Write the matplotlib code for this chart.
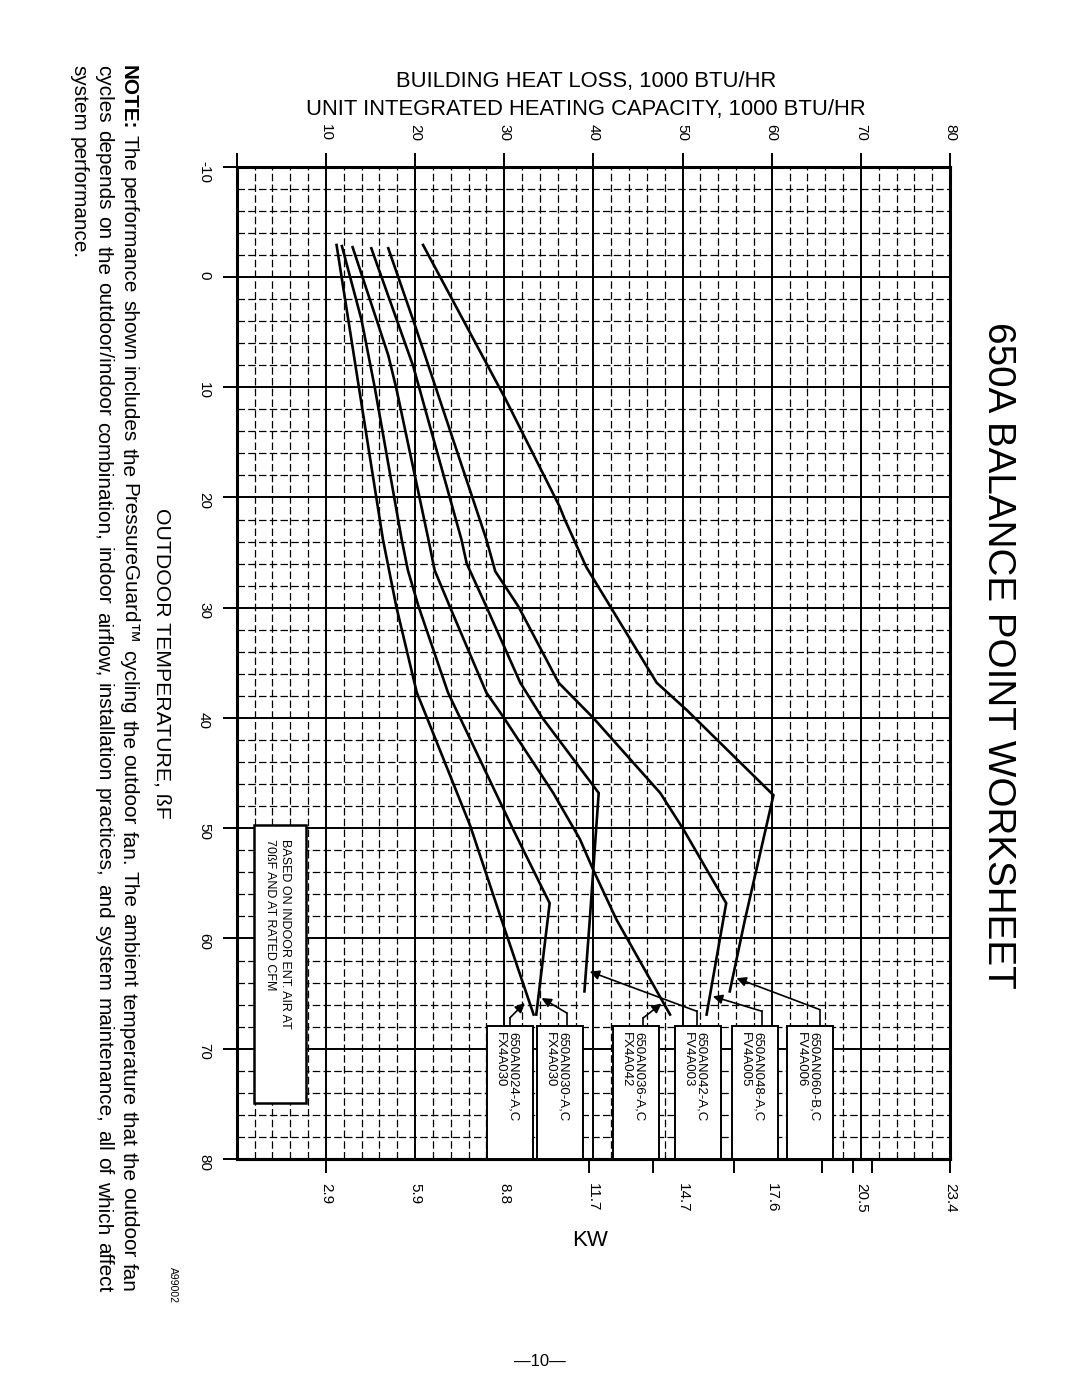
import numpy as np
import matplotlib.pyplot as plt
from matplotlib.patches import Rectangle

plt.rcParams['font.family'] = ['Liberation Sans', 'DejaVu Sans']

# axis scales
cap_ticks = list(range(0, 81, 10))
cap_labels = [''] + [str(v) for v in range(10, 81, 10)]
temp_ticks = list(range(-10, 81, 10))
kw_label_pos = [10, 20, 30, 40, 50, 60, 70, 80]
kw_labels = ['2.9', '5.9', '8.8', '11.7', '14.7', '17.6', '20.5', '23.4']
kw_tick_pos = [10, 39.5, 46.7, 55.8, 65.7, 69.1, 71.2, 80]

# balance point curves: outdoor temp (F) vs capacity (1000 BTU/HR)
t_024 = [-2.9, 10.5, 23.8, 29.9, 37.7, 39.9, 49.8, 58.3, 66.9]
c_024 = [11.2, 13.8, 16.4, 17.9, 20.2, 21.3, 26.2, 29.7, 33.3]

t_030 = [-2.8, 3.9, 10.1, 23.8, 26.6, 29.9, 37.7, 39.9, 50.1, 56.8, 66.9]
c_030 = [11.8, 14.0, 15.5, 18.5, 19.2, 20.4, 23.7, 25.0, 31.0, 35.1, 33.6]

t_036 = [-2.7, 7.1, 10.1, 23.8, 26.6, 29.9, 37.7, 39.9, 46.8, 51.0, 53.8, 58.3, 66.9]
c_036 = [13.0, 17.0, 17.9, 21.5, 22.2, 23.9, 28.0, 29.9, 35.5, 38.5, 40.0, 42.6, 48.6]

t_042 = [-2.6, 8.1, 23.8, 26.0, 29.9, 36.8, 39.9, 46.8, 58.3, 64.8]
c_042 = [15.1, 19.8, 25.2, 25.8, 28.0, 31.8, 34.2, 40.6, 39.6, 39.0]

t_048 = [-2.6, 4.4, 23.8, 26.7, 29.9, 36.8, 40.0, 46.8, 50.1, 56.8, 66.9]
c_048 = [17.0, 20.0, 28.0, 29.0, 31.6, 36.1, 40.0, 47.5, 50.1, 54.9, 52.7]

t_060 = [-2.9, 11.0, 20.8, 22.0, 26.3, 36.8, 39.3, 47.0, 58.3, 64.8]
c_060 = [20.9, 30.1, 36.2, 36.8, 39.2, 47.1, 50.5, 60.2, 57.0, 55.3]

models = ['650AN024-A,C', '650AN030-A,C', '650AN036-A,C',
          '650AN042-A,C', '650AN048-A,C', '650AN060-B,C']
coils = ['FX4A030', 'FX4A030', 'FX4A042', 'FV4A003', 'FV4A005', 'FV4A006']

W, H = 1080, 1397
fig = plt.figure(figsize=(W / 100, H / 100), dpi=100)


def fx(px):
    return px / W


def fy(py):
    return 1 - py / H


ax = fig.add_axes([fx(236.7), fy(1159), (950 - 236.7) / W, (1159 - 166.7) / H])
ax.set_xlim(0, 80)
ax.set_ylim(80, -10)

# grid
ax.set_xticks(cap_ticks, cap_labels)
ax.set_xticks(np.arange(0, 81, 2), minor=True)
ax.set_yticks(temp_ticks, [str(v) for v in temp_ticks])
ax.set_yticks(np.arange(-10, 81, 2), minor=True)
ax.grid(which='major', color='black', lw=1.4)
ax.grid(which='minor', color='black', lw=0.9, ls=(0, (6, 2.6)))
ax.set_axisbelow(True)

ax.xaxis.tick_top()
ax.tick_params(axis='both', which='major', direction='out', length=10,
               width=1.4, pad=8.5, labelsize=11, labelrotation=270)
ax.tick_params(axis='both', which='minor', length=0)
for s in ax.spines.values():
    s.set_linewidth(2.2)

# kW scale along the bottom
sec = ax.secondary_xaxis('bottom')
sec.xaxis.remove_overlapping_locs = False
sec.set_xticks(kw_label_pos, kw_labels)
sec.set_xticks(kw_tick_pos, minor=True)
sec.tick_params(which='major', length=0, pad=17, labelsize=11, labelrotation=270)
sec.tick_params(which='minor', length=10, width=1.4, direction='out')
sec.spines['bottom'].set_linewidth(2.2)

# curves
for t, c in [(t_024, c_024), (t_030, c_030), (t_036, c_036),
             (t_042, c_042), (t_048, c_048), (t_060, c_060)]:
    ax.plot(c, t, color='black', lw=1.9, solid_joinstyle='miter', zorder=4)

# label boxes with arrows
box_left = [28.1, 33.7, 42.2, 49.14, 55.57, 61.77]
box_w = 5.16
arrow_base = [30.64, 37.0, 45.6, 51.6, 58.9, 65.4]
arrow_knee = [67.2, 66.75, 67.2, 66.6, 66.6, 66.45]
arrow_head = [(32.3, 65.85), (34.2, 65.4), (47.65, 65.9),
              (39.6, 63.0), (53.4, 65.25), (56.05, 63.6)]
box_top = 67.9
for i in range(6):
    ax.add_patch(Rectangle((box_left[i], box_top), box_w, 80 - box_top,
                           fc='white', ec='black', lw=1.4, zorder=3))
    r = box_left[i] + box_w
    ax.text(r - 2.58, 68.5, models[i], rotation=270, rotation_mode='anchor',
            ha='left', va='baseline', fontsize=9.5, zorder=5)
    ax.text(r - 4.04, 68.5, coils[i], rotation=270, rotation_mode='anchor',
            ha='left', va='baseline', fontsize=9.5, zorder=5)
    ax.plot([arrow_base[i], arrow_base[i]], [box_top, arrow_knee[i]],
            color='black', lw=1.2, zorder=5)
    ax.annotate('', xy=arrow_head[i], xytext=(arrow_base[i], arrow_knee[i]),
                arrowprops=dict(arrowstyle='-|>', color='black', lw=1.2,
                                mutation_scale=14, shrinkA=0, shrinkB=0),
                zorder=5)

# note box
ax.add_patch(Rectangle((1.97, 49.7), 5.8, 25.2, fc='white', ec='black',
                       lw=1.8, zorder=3))
ax.text(5.08, 51.0, 'BASED ON INDOOR ENT. AIR AT', rotation=270,
        rotation_mode='anchor', ha='left', va='baseline', fontsize=9, zorder=5)
ax.text(3.40, 51.0, '70ßF AND AT RATED CFM', rotation=270,
        rotation_mode='anchor', ha='left', va='baseline', fontsize=9, zorder=5)

# page texts
fig.text(fx(988), fy(322), '650A BALANCE POINT WORKSHEET', rotation=270,
         rotation_mode='anchor', ha='left', va='baseline', fontsize=27.8)
fig.text(fx(586), fy(86.7), 'BUILDING HEAT LOSS, 1000 BTU/HR',
         ha='center', va='baseline', fontsize=15.8)
fig.text(fx(586), fy(115), 'UNIT INTEGRATED HEATING CAPACITY, 1000 BTU/HR',
         ha='center', va='baseline', fontsize=15.8)
fig.text(fx(156), fy(663), 'OUTDOOR TEMPERATURE, ßF', rotation=270,
         rotation_mode='anchor', ha='center', va='baseline', fontsize=15.3)
fig.text(fx(590), fy(1246), 'KW', ha='center', va='baseline', fontsize=16)
fig.text(fx(540), fy(1366), '\u201410\u2014', ha='center', va='baseline', fontsize=12)
fig.text(fx(170), fy(1267), 'A99002', rotation=270, rotation_mode='anchor',
         ha='left', va='baseline', fontsize=7.5)

# justified note text, rotated
note_lines = [
    [('NOTE:', 'bold')] + [(w, 'normal') for w in
     'The performance shown includes the PressureGuard\u2122 cycling the outdoor fan. The ambient temperature that the outdoor fan'.split()],
    [(w, 'normal') for w in
     'cycles depends on the outdoor/indoor combination, indoor airflow, installation practices, and system maintenance, all of which affect'.split()],
    [(w, 'normal') for w in 'system performance.'.split()],
]
note_x = [123, 98, 73]
note_y0, note_y1 = 65, 1292
renderer = fig.canvas.get_renderer()


def text_w(s, size, weight):
    t = fig.text(0, 0, s, fontsize=size, fontweight=weight)
    w = t.get_window_extent(renderer).width
    t.remove()
    return w


size = 15
space = text_w('a b', size, 'normal') - text_w('ab', size, 'normal')
natural = max(sum(text_w(w, size, wt) for w, wt in ln) + space * (len(ln) - 1)
              for ln in note_lines[:2])
if natural > note_y1 - note_y0:
    size = size * (note_y1 - note_y0) / natural
    space = space * (note_y1 - note_y0) / natural

for li, ln in enumerate(note_lines):
    widths = [text_w(w, size, wt) for w, wt in ln]
    if li < 2:
        gap = (note_y1 - note_y0 - sum(widths)) / (len(ln) - 1)
    else:
        gap = space
    y = note_y0
    for (w, wt), wd in zip(ln, widths):
        fig.text(fx(note_x[li]), fy(y), w, rotation=270, rotation_mode='anchor',
                 ha='left', va='baseline', fontsize=size, fontweight=wt)
        y += wd + gap

fig.savefig('out.png', dpi=100)
